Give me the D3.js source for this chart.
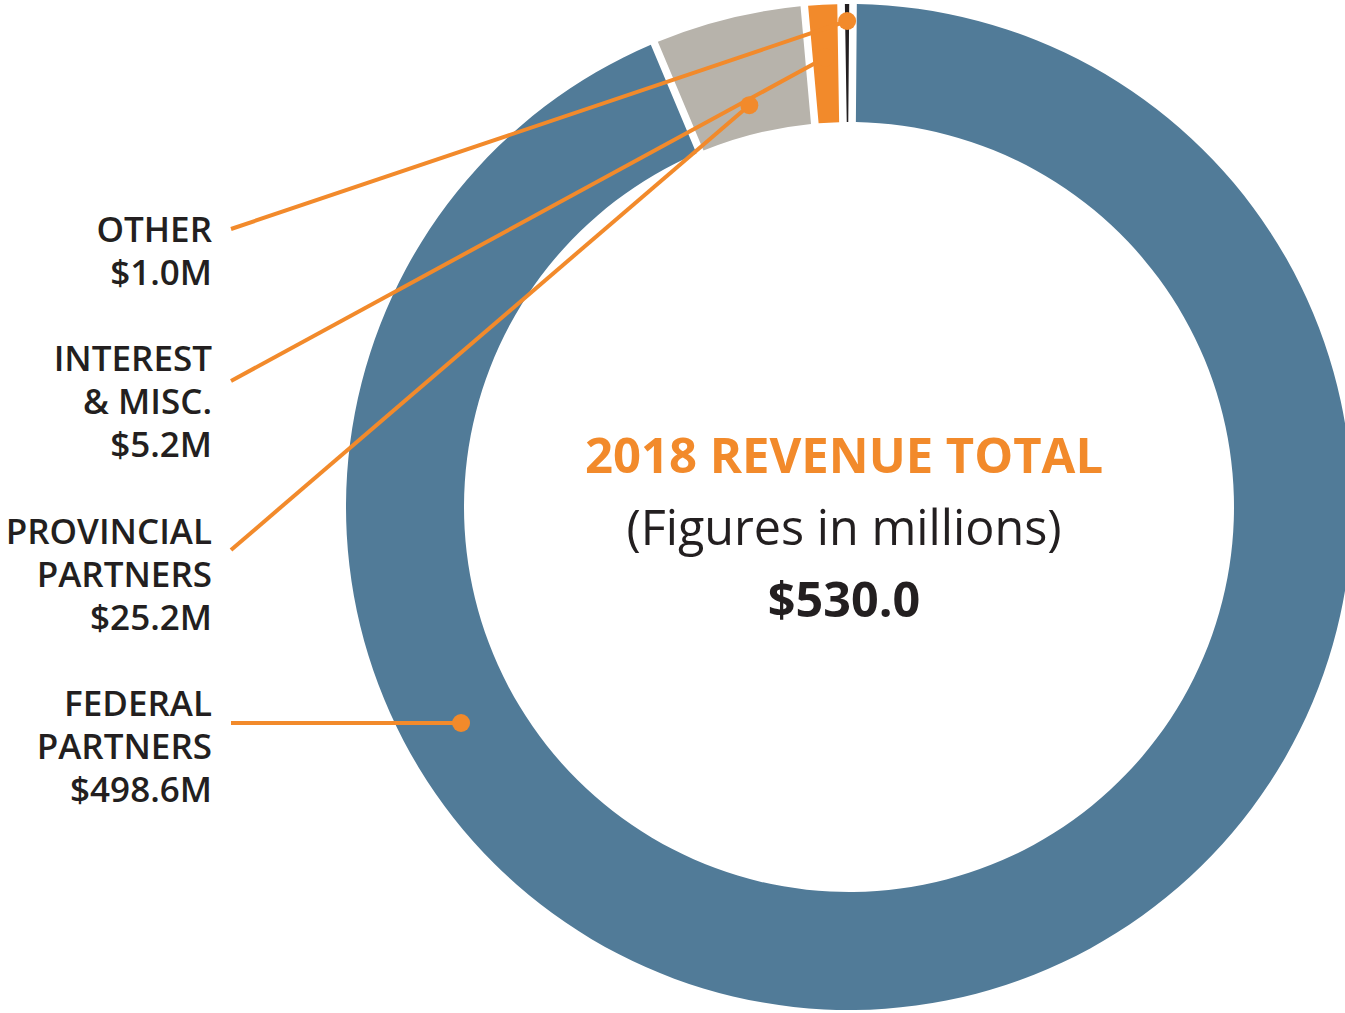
<!DOCTYPE html>
<html>
<head>
<meta charset="utf-8">
<script src="https://cdn.jsdelivr.net/npm/d3@7"></script>
<style>
  html, body { margin: 0; padding: 0; background: #fff; }
  svg { display: block; font-family: "Open Sans", sans-serif; }
</style>
</head>
<body>
<svg id="chart" width="1345" height="1013"></svg>
<script>
// revenue by source, millions (clockwise from 12 o'clock)
const categories = ["FEDERAL PARTNERS", "PROVINCIAL PARTNERS", "INTEREST & MISC.", "OTHER"];
const values = [498.6, 25.2, 5.2, 1.0];
const colors = ["#517b98", "#b7b3ab", "#f28a2b", "#231f20"];

// label blocks on the left, top to bottom
const labelLines = [
  ["OTHER", "$1.0M"],
  ["INTEREST", "& MISC.", "$5.2M"],
  ["PROVINCIAL", "PARTNERS", "$25.2M"],
  ["FEDERAL", "PARTNERS", "$498.6M"]
];
const labelSlice = [3, 2, 1, 0];   // which slice each block points at
const total = 530.0;

const orange = "#f28a2b";
const cx = 849, cy = 507;
const outerR = 503, innerR = 385;

const svg = d3.select("#chart");
const g = svg.append("g").attr("transform", `translate(${cx},${cy})`);

const pie = d3.pie()
  .sort(null)
  .value(d => d)
  .startAngle(0.008)
  .endAngle(2 * Math.PI + 0.008)
  .padAngle(0.012);

const arcs = pie(values);

const arc = d3.arc()
  .innerRadius(innerR)
  .outerRadius(outerR);

g.selectAll("path.slice")
  .data(arcs)
  .enter()
  .append("path")
  .attr("class", "slice")
  .attr("d", arc)
  .attr("fill", (d, i) => colors[i]);

// where each leader line lands: fraction across the slice and radius
const anchorPos = [
  { t: 0.5, r: 444, fixedY: true },   // federal: horizontal line
  { t: 0.5, r: 414 },
  { t: 0.5, r: 450 },
  { t: 0.5, r: 486 }
];

function anchorPoint(i, yLine) {
  const a = arcs[i];
  const p = anchorPos[i];
  if (p.fixedY) {
    const dy = yLine - cy;
    const dx = -Math.sqrt(p.r * p.r - dy * dy);
    return [cx + dx, yLine];
  }
  const ang = a.startAngle + (a.endAngle - a.startAngle) * p.t;
  return [cx + p.r * Math.sin(ang), cy - p.r * Math.cos(ang)];
}

const textX = 212;
const lineX = 231;
const lineGap = 43;
const firstBaseline = [242, 371, 544, 716];
const lineY = [229, 381, 550, 723];

labelLines.forEach((lines, k) => {
  const txt = svg.append("text")
    .attr("text-anchor", "end")
    .style("font-size", "35px")
    .style("font-weight", 600)
    .style("fill", "#231f20");
  lines.forEach((s, j) => {
    txt.append("tspan")
      .attr("x", textX)
      .attr("y", firstBaseline[k] + j * lineGap)
      .text(s);
  });

  const end = anchorPoint(labelSlice[k], lineY[k]);
  svg.append("line")
    .attr("x1", lineX)
    .attr("y1", lineY[k])
    .attr("x2", end[0])
    .attr("y2", end[1])
    .attr("stroke", orange)
    .attr("stroke-width", 4);
  svg.append("circle")
    .attr("cx", end[0])
    .attr("cy", end[1])
    .attr("r", 9)
    .attr("fill", orange);
});

// centre text
const tx = -5;
g.append("text")
  .attr("x", tx)
  .attr("y", -34)
  .attr("text-anchor", "middle")
  .style("font-size", "49px")
  .style("font-weight", 700)
  .style("fill", orange)
  .text("2018 REVENUE TOTAL");

g.append("text")
  .attr("x", tx)
  .attr("y", 38)
  .attr("text-anchor", "middle")
  .style("font-size", "48.5px")
  .style("font-weight", 400)
  .style("fill", "#231f20")
  .text("(Figures in millions)");

g.append("text")
  .attr("x", tx)
  .attr("y", 110)
  .attr("text-anchor", "middle")
  .style("font-size", "48.5px")
  .style("font-weight", 700)
  .style("fill", "#231f20")
  .text("$" + d3.format(".1f")(total));
</script>
</body>
</html>
